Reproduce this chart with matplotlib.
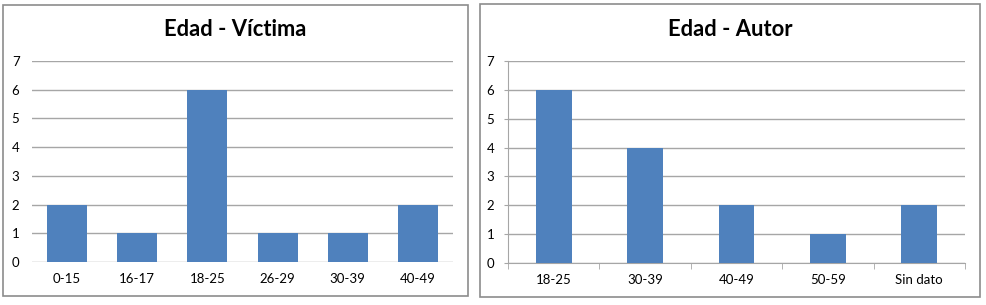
import matplotlib.pyplot as plt
from matplotlib.patches import Rectangle
import numpy as np

plt.rcParams['font.family'] = ['Lato', 'DejaVu Sans']

# data
victima_labels = ['0-15', '16-17', '18-25', '26-29', '30-39', '40-49']
victima_values = [2, 1, 6, 1, 1, 2]
autor_labels = ['18-25', '30-39', '40-49', '50-59', 'Sin dato']
autor_values = [6, 4, 2, 1, 2]

BAR = '#4F81BD'
GRID = '#a6a6a6'
W, H = 986, 305

fig = plt.figure(figsize=(W / 100, H / 100), dpi=100)

def px_axes(x0, x1, y_top, y_bot):
    return fig.add_axes([x0 / W, 1 - y_bot / H, (x1 - x0) / W, (y_bot - y_top) / H])

# chart borders
for bx0, by0, bx1, by1 in [(3, 5, 468, 296), (480, 4, 980, 297)]:
    fig.patches.append(Rectangle((bx0 / W, 1 - by1 / H), (bx1 - bx0) / W, (by1 - by0) / H,
                                 transform=fig.transFigure, fill=False,
                                 edgecolor='#8c8c8c', linewidth=1.2))

def draw(ax, labels, values, width, axis_line):
    x = np.arange(len(labels))
    ax.bar(x, values, width=width, color=BAR, zorder=3)
    ax.set_ylim(0, 7)
    ax.set_xlim(-0.5, len(labels) - 0.5)
    ax.set_yticks(range(8))
    ax.yaxis.grid(True, color=GRID, linewidth=1)
    ax.set_axisbelow(True)
    ax.set_xticks(x)
    ax.set_xticklabels(labels)
    for s in ax.spines.values():
        s.set_visible(False)
    ax.tick_params(axis='x', length=0, labelsize=9.5, pad=8)
    ax.tick_params(axis='y', labelsize=9.5, pad=9, length=0)
    if axis_line:
        ax.spines['left'].set_visible(True)
        ax.spines['left'].set_color(GRID)
        ax.spines['bottom'].set_visible(True)
        ax.spines['bottom'].set_color(GRID)
        ax.tick_params(axis='y', length=3, color=GRID, pad=7)
        ax.set_xticks(np.arange(len(labels) + 1) - 0.5, minor=True)
        ax.tick_params(axis='x', which='minor', length=4, color=GRID)

ax1 = px_axes(32, 453, 61, 262)
draw(ax1, victima_labels, victima_values, 0.57, False)
fig.text(235 / W, 1 - 30 / H, 'Edad - Víctima', ha='center', va='center',
         fontsize=15.8, fontweight='bold')

ax2 = px_axes(508, 965, 61, 263)
draw(ax2, autor_labels, autor_values, 0.39, True)
fig.text(730 / W, 1 - 30 / H, 'Edad - Autor', ha='center', va='center',
         fontsize=15.8, fontweight='bold')

fig.savefig('out.png', dpi=100)
